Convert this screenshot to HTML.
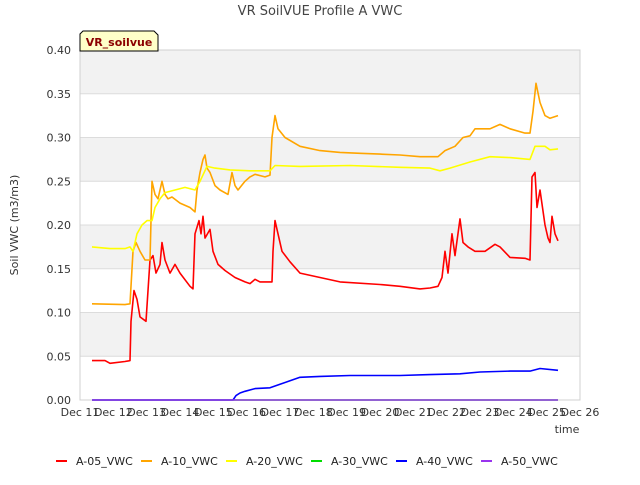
<!DOCTYPE html>
<html><head><meta charset="utf-8"><style>
body{margin:0;background:#fff;font-family:"Liberation Sans","DejaVu Sans",sans-serif}
svg text{font-family:"DejaVu Sans","Liberation Sans",sans-serif}
</style></head><body>
<svg id="c" width="640" height="480" xmlns="http://www.w3.org/2000/svg"></svg>
<script>
const yTicks=[0,0.05,0.10,0.15,0.20,0.25,0.30,0.35,0.40];
const xTickDays=[11,12,13,14,15,16,17,18,19,20,21,22,23,24,25,26];
const seriesNames=["A-05_VWC","A-10_VWC","A-20_VWC","A-30_VWC","A-40_VWC","A-50_VWC"];
const seriesColors=["#ff0000","#ffa500","#ffff00","#00dd00","#0000ff","#9933ee"];
const a05Days=[11.36,11.75,11.9,12.35,12.5,12.53,12.62,12.71,12.8,12.98,13.1,13.19,13.28,13.4,13.46,13.55,13.7,13.85,14.0,14.3,14.39,14.45,14.57,14.63,14.69,14.75,14.9,14.99,15.14,15.35,15.65,15.95,16.1,16.25,16.4,16.7,16.76,16.79,16.85,16.94,17.06,17.3,17.6,18.2,18.8,20.0,20.6,21.2,21.5,21.74,21.86,21.95,22.04,22.16,22.25,22.4,22.49,22.64,22.85,23.15,23.45,23.6,23.9,24.35,24.5,24.56,24.65,24.71,24.8,24.95,25.04,25.1,25.16,25.25,25.34];
const a05Vals=[0.045,0.045,0.042,0.044,0.045,0.09,0.125,0.115,0.095,0.09,0.16,0.165,0.145,0.155,0.18,0.16,0.145,0.155,0.145,0.13,0.127,0.19,0.205,0.19,0.21,0.185,0.195,0.17,0.155,0.148,0.14,0.135,0.133,0.138,0.135,0.135,0.135,0.17,0.205,0.19,0.17,0.158,0.145,0.14,0.135,0.132,0.13,0.127,0.128,0.13,0.14,0.17,0.145,0.19,0.165,0.207,0.18,0.175,0.17,0.17,0.178,0.175,0.163,0.162,0.16,0.255,0.26,0.22,0.24,0.2,0.185,0.18,0.21,0.19,0.182];
const a10Days=[11.36,12.35,12.5,12.59,12.68,12.8,12.95,13.1,13.16,13.25,13.34,13.46,13.55,13.64,13.76,14.0,14.3,14.45,14.51,14.6,14.69,14.75,14.81,14.9,15.05,15.2,15.44,15.56,15.65,15.74,15.95,16.1,16.25,16.55,16.7,16.76,16.85,16.94,17.15,17.6,18.2,18.8,19.4,20.0,20.6,21.2,21.74,21.95,22.25,22.49,22.7,22.85,23.3,23.6,23.9,24.35,24.5,24.59,24.68,24.8,24.95,25.1,25.34];
const a10Vals=[0.11,0.109,0.11,0.17,0.18,0.17,0.16,0.16,0.25,0.235,0.23,0.25,0.235,0.23,0.232,0.225,0.22,0.215,0.24,0.26,0.275,0.28,0.265,0.26,0.245,0.24,0.235,0.26,0.245,0.24,0.25,0.255,0.258,0.255,0.257,0.3,0.325,0.31,0.3,0.29,0.285,0.283,0.282,0.281,0.28,0.278,0.278,0.285,0.29,0.3,0.302,0.31,0.31,0.315,0.31,0.305,0.305,0.33,0.362,0.34,0.325,0.322,0.325];
const a20Days=[11.36,11.9,12.35,12.5,12.59,12.71,12.86,13.01,13.16,13.25,13.4,13.55,13.85,14.15,14.45,14.6,14.81,15.05,15.5,16.1,16.7,16.85,17.6,19.1,20.6,21.5,21.8,22.1,22.7,23.3,23.9,24.5,24.65,24.95,25.1,25.34];
const a20Vals=[0.175,0.173,0.173,0.175,0.17,0.19,0.2,0.205,0.205,0.22,0.23,0.237,0.24,0.243,0.24,0.25,0.267,0.265,0.263,0.262,0.262,0.268,0.267,0.268,0.266,0.265,0.262,0.265,0.272,0.278,0.277,0.275,0.29,0.29,0.286,0.287];
const a30Days=[11.36,25.34];
const a30Vals=[0,0];
const a40Days=[11.36,15.59,15.68,15.8,15.95,16.25,16.7,17.0,17.3,17.6,18.2,19.1,20.6,21.5,22.4,23.0,23.9,24.5,24.8,25.34];
const a40Vals=[0,0,0.005,0.008,0.01,0.013,0.014,0.018,0.022,0.026,0.027,0.028,0.028,0.029,0.03,0.032,0.033,0.033,0.036,0.034];
const a50Days=[11.36,25.34];
const a50Vals=[0,0];
const allDays=[a05Days,a10Days,a20Days,a30Days,a40Days,a50Days];
const allVals=[a05Vals,a10Vals,a20Vals,a30Vals,a40Vals,a50Vals];

const L=80,R=580,T=50,B=400;
const xs=d=>L+(d-11)/(26-11)*(R-L);
const ys=v=>B-v/0.4*(B-T);
const svg=document.getElementById('c');
const NS="http://www.w3.org/2000/svg";
function mk(tag,attrs,parent){const e=document.createElementNS(NS,tag);for(const k in attrs)e.setAttribute(k,attrs[k]);(parent||svg).appendChild(e);return e;}

// bands
for(let i=0;i<yTicks.length-1;i++){
  if(i%2===1){const r=mk('rect',{x:L,y:ys(yTicks[i+1]),width:R-L,height:ys(yTicks[i])-ys(yTicks[i+1]),fill:'#f2f2f2'});
  
  }
}
yTicks.forEach(v=>{
  const g=mk('line',{x1:L,x2:R,y1:ys(v),y2:ys(v),stroke:'#dcdcdc','stroke-width':1});
  
  
  const t=mk('text',{x:L-9,y:ys(v)+4,'text-anchor':'end','font-size':11,fill:'#333'});
  t.textContent=v.toFixed(2);
  
  
});
const fr=mk('rect',{x:L,y:T,width:R-L,height:B-T,fill:'none',stroke:'#d0d0d0'});


xTickDays.forEach(d=>{
  const t=mk('text',{x:xs(d),y:416,'text-anchor':'middle','font-size':11,fill:'#333'});
  t.textContent='Dec '+d;
  
  
});
// series
allDays.forEach((days,i)=>{
  const p=mk('polyline',{points:days.map((d,j)=>xs(d).toFixed(1)+','+ys(allVals[i][j]).toFixed(1)).join(' '),fill:'none',stroke:seriesColors[i],'stroke-width':1.6,'stroke-linejoin':'round'});
  
  
});
// legend
seriesNames.forEach((n,i)=>{
  const x0=56+85*i;
  const l=mk('line',{x1:x0,x2:x0+11,y1:461,y2:461,stroke:seriesColors[i],'stroke-width':2});
  
  
  const t=mk('text',{x:x0+20,y:465,'font-size':11,fill:'#222'});
  t.textContent=n;
  
  
});
</script>
<svg width="640" height="480" style="position:absolute;left:0;top:0">
<text x="320" y="15" text-anchor="middle" font-size="13" fill="#444">VR SoilVUE Profile A VWC</text>
<text x="18" y="225" text-anchor="middle" font-size="11" fill="#333" transform="rotate(-90 18 225)">Soil VWC (m3/m3)</text>
<text x="567" y="433" text-anchor="middle" font-size="11" fill="#333">time</text>
<polygon points="83,31 154,31 158,35 158,51 80,51 80,34" fill="#ffffc8" stroke="#000"/>
<text x="119" y="46" text-anchor="middle" font-size="11" font-weight="bold" fill="#8b0000">VR_soilvue</text>
</svg>
</body></html>
